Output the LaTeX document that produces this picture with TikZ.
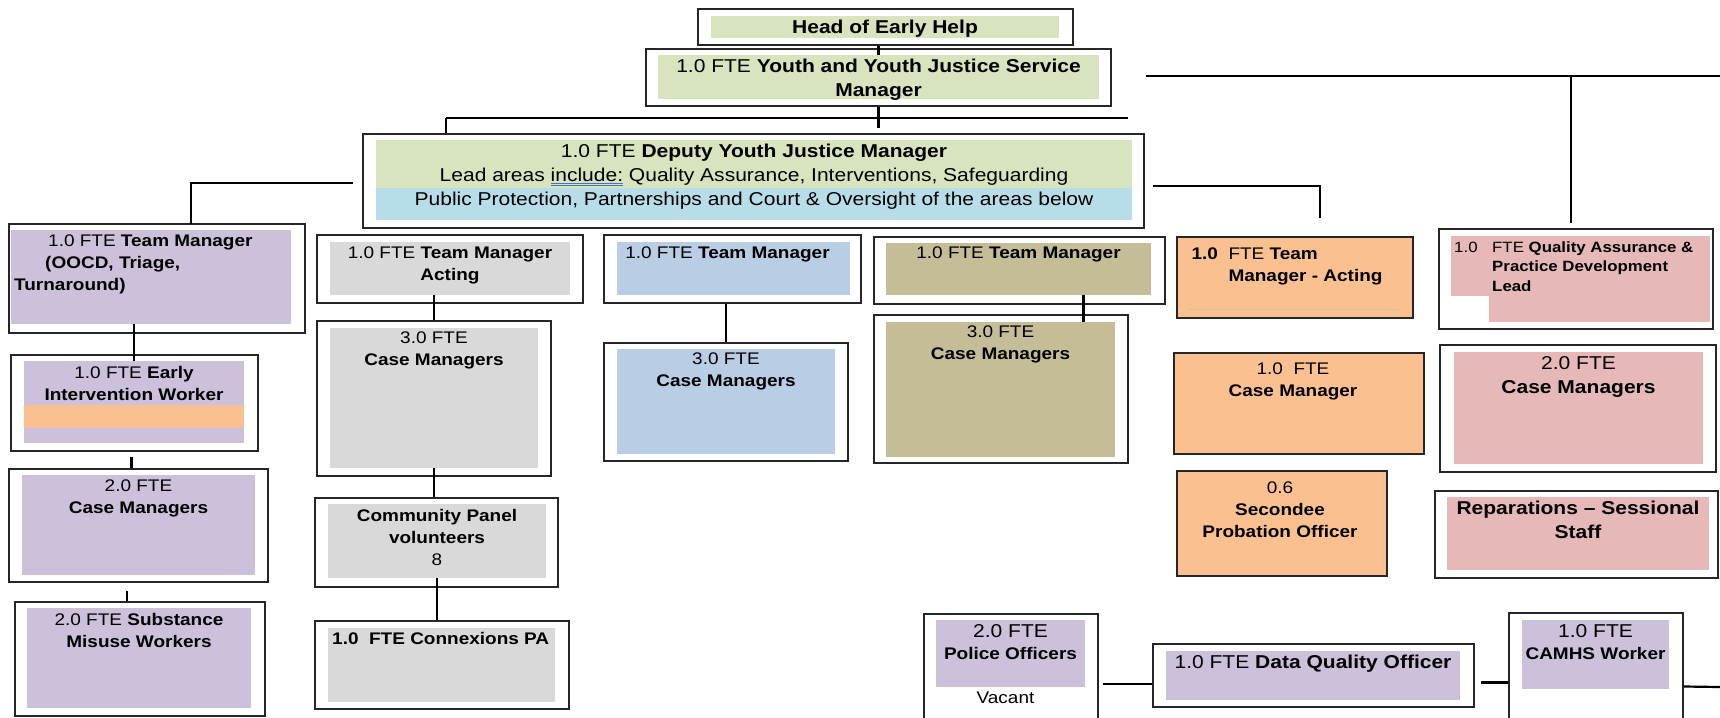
\documentclass[tikz,border=0pt]{standalone}
\usepackage{fontspec}
\setmainfont[FakeStretch=1.13]{Liberation Sans}
\usetikzlibrary{positioning}

\definecolor{hgreen}{HTML}{D7E4BD}
\definecolor{hcyan}{HTML}{B7DEE8}
\definecolor{lilac}{HTML}{CCC0DA}
\definecolor{silver}{HTML}{D9D9D9}
\definecolor{skyblue}{HTML}{B9CDE5}
\definecolor{khaki}{HTML}{C4BD97}
\definecolor{peach}{HTML}{FAC090}
\definecolor{rose}{HTML}{E6B9B8}
\definecolor{gramblue}{HTML}{4472C4}
\definecolor{tanline}{HTML}{D2C3A0}

\newcommand\sizebig{\fontsize{18.6}{24}\selectfont}
\newcommand\sizesmall{\fontsize{16.8}{22}\selectfont}
\newcommand\sizeqa{\fontsize{14.9}{19.5}\selectfont}
% blue double line under a word
\newcommand\gramline[1]{\setbox0\hbox{#1}\rlap{\color{gramblue}\rule[-2.5pt]{\wd0}{0.9pt}\hspace*{-\wd0}\rule[-4.6pt]{\wd0}{0.9pt}}\box0\relax}

\begin{document}
\begin{tikzpicture}[x=1pt, y=-1pt,
    cell/.style = {draw=black!85, line width=1.4pt, fill=white, inner sep=0pt},
    card/.style = {cell, fill=#1},
    pane/.style = {fill=#1, inner sep=0pt, outer sep=0pt},
    bigtxt/.style = {font=\sizebig, align=center, inner sep=0pt},
    smalltxt/.style = {font=\sizesmall, align=center, inner sep=0pt},
    link/.style = {draw=black, line width=2.2pt}]
  \useasboundingbox (0,0) rectangle (1720,717);
  \clip (0,0) rectangle (1720,717);

  % top of the tree
  \node[cell, minimum width=375pt, minimum height=36pt] (head) at (885.5,27) {};
  \node[pane=hgreen, minimum width=348pt, minimum height=22pt] (headin) at (885,27) {};
  \node[bigtxt, below=4pt of headin.north] (headt) {\textbf{Head of Early Help}};

  \node[cell, minimum width=465pt, minimum height=57pt] (yjsm) at (878.5,77.5) {};
  \node[pane=hgreen, minimum width=441pt, minimum height=44pt] (yjsmin) at (878.5,77) {};
  \node[bigtxt, below=4pt of yjsmin.north] (yjsmt) {1.0 FTE \textbf{Youth and Youth Justice Service}\\\textbf{Manager}};

  \node[cell, minimum width=781pt, minimum height=94pt] (dep) at (753.5,181) {};
  \node[pane=hgreen, minimum width=756pt, minimum height=48pt] (depin) at (754,164) {};
  \node[pane=hcyan, minimum width=756pt, minimum height=32pt, below=0pt of depin] (depinb) {};
  \node[bigtxt, below=4pt of depin.north] (dept) {1.0 FTE \textbf{Deputy Youth Justice Manager}\\Lead areas \gramline{include:} Quality Assurance, Interventions, Safeguarding\\Public Protection, Partnerships and Court \& Oversight of the areas below};

  % team managers
  \node[cell, minimum width=296pt, minimum height=109pt] (tm1) at (157,278.5) {};
  \node[pane=lilac, minimum width=280pt, minimum height=94pt] (tm1in) at (151,277) {};
  \node[smalltxt, align=left, below right=5pt and 3pt of tm1in.north west] (tm1t) {\hspace*{34pt}1.0 FTE \textbf{Team Manager}\\\hspace*{31pt}\textbf{(OOCD, Triage,}\\\textbf{Turnaround)}};

  \node[cell, minimum width=266pt, minimum height=68pt] (tm2) at (450,269) {};
  \node[pane=silver, minimum width=240pt, minimum height=53pt] (tm2in) at (450,268.5) {};
  \node[smalltxt, below=5pt of tm2in.north] (tm2t) {1.0 FTE \textbf{Team Manager}\\\textbf{Acting}};

  \node[cell, minimum width=257pt, minimum height=68pt] (tm3) at (732.5,269) {};
  \node[pane=skyblue, minimum width=233pt, minimum height=53pt] (tm3in) at (733.5,268.5) {};
  \node[smalltxt, below=5pt of tm3in.north, xshift=-6pt] (tm3t) {1.0 FTE \textbf{Team Manager}};

  \node[cell, minimum width=291pt, minimum height=67pt] (tm4) at (1019.5,270.5) {};
  \node[pane=khaki, minimum width=265pt, minimum height=52pt] (tm4in) at (1018.5,269) {};
  \node[smalltxt, below=4pt of tm4in.north] (tm4t) {1.0 FTE \textbf{Team Manager}};

  \node[card=peach, minimum width=236pt, minimum height=81pt] (tm5) at (1295,277.5) {};
  \draw[tanline, line width=1.5pt] ([xshift=12pt,yshift=9pt]tm5.south west) -- ([xshift=-15pt,yshift=9pt]tm5.south east);
  \node[smalltxt, align=left, below right=11pt and 15pt of tm5.north west] (tm5t) {\makebox[37pt][l]{\textbf{1.0}}FTE \textbf{Team}\\\hspace*{37pt}\textbf{Manager - Acting}};

  \node[cell, minimum width=274pt, minimum height=100pt] (qa) at (1576,279) {};
  \node[pane=rose, minimum width=259pt, minimum height=60pt] (qain) at (1580.5,266) {};
  \node[pane=rose, minimum width=221pt, minimum height=26pt] (qatail) at (1599.5,309) {};
  \node[font=\sizeqa, align=left, inner sep=0pt, below right=5.5pt and 3pt of qain.north west] (qat) {\makebox[38pt][l]{1.0}FTE \textbf{Quality Assurance \&}\\\hspace*{38pt}\textbf{Practice Development}\\\hspace*{38pt}\textbf{Lead}};

  % first column
  \node[cell, minimum width=247pt, minimum height=96pt] (eiw) at (134.5,403) {};
  \node[pane=lilac, minimum width=220pt, minimum height=82pt] (eiwin) at (134,402) {};
  \node[pane=peach, minimum width=220pt, minimum height=23pt, below=44pt of eiwin.north] (eiwband) {};
  \node[smalltxt, below=5pt of eiwin.north] (eiwt) {1.0 FTE \textbf{Early}\\\textbf{Intervention Worker}};

  \node[cell, minimum width=259pt, minimum height=113pt] (cm1) at (138.5,525.5) {};
  \node[pane=lilac, minimum width=233pt, minimum height=100pt] (cm1in) at (138.5,525) {};
  \node[smalltxt, below=5pt of cm1in.north] (cm1t) {2.0 FTE\\\textbf{Case Managers}};

  \node[cell, minimum width=250pt, minimum height=114pt] (sub) at (140,659) {};
  \node[pane=lilac, minimum width=224pt, minimum height=100pt] (subin) at (139,658) {};
  \node[smalltxt, below=5pt of subin.north] (subt) {2.0 FTE \textbf{Substance}\\\textbf{Misuse Workers}};

  % second column
  \node[cell, minimum width=234pt, minimum height=155pt] (cm2) at (434,398.5) {};
  \node[pane=silver, minimum width=208pt, minimum height=140pt] (cm2in) at (434,398) {};
  \node[smalltxt, below=4pt of cm2in.north] (cm2t) {3.0 FTE\\\textbf{Case Managers}};

  \node[cell, minimum width=243pt, minimum height=89pt] (cp) at (436.5,542.5) {};
  \node[pane=silver, minimum width=218pt, minimum height=74pt] (cpin) at (437,541) {};
  \node[smalltxt, below=5pt of cpin.north] (cpt) {\textbf{Community Panel}\\\textbf{volunteers}\\8};

  \node[cell, minimum width=254pt, minimum height=88pt] (cx) at (442,665) {};
  \node[pane=silver, minimum width=227pt, minimum height=74pt] (cxin) at (441.5,665) {};
  \node[smalltxt, align=left, below right=4pt and 4pt of cxin.north west] (cxt) {\textbf{1.0\ \ FTE Connexions PA}};

  % third and fourth columns
  \node[cell, minimum width=244pt, minimum height=118pt] (cm3) at (726,402) {};
  \node[pane=skyblue, minimum width=218pt, minimum height=105pt] (cm3in) at (726,401.5) {};
  \node[smalltxt, below=4pt of cm3in.north] (cm3t) {3.0 FTE\\\textbf{Case Managers}};

  \node[cell, minimum width=254pt, minimum height=148pt] (cm4) at (1001,389) {};
  \node[pane=khaki, minimum width=229pt, minimum height=135pt] (cm4in) at (1000.5,389.5) {};
  \node[smalltxt, below=4pt of cm4in.north] (cm4t) {3.0 FTE\\\textbf{Case Managers}};

  % orange column
  \node[card=peach, minimum width=250pt, minimum height=101pt] (cm5) at (1299,403.5) {};
  \node[smalltxt, below=10pt of cm5.north, xshift=-6pt] (cm5t) {1.0\ \ FTE\\\textbf{Case Manager}};

  \node[card=peach, minimum width=210pt, minimum height=105pt] (sec) at (1282,523.5) {};
  \node[smalltxt, below=11pt of sec.north, xshift=-2pt] (sect) {0.6\\\textbf{Secondee}\\\textbf{Probation Officer}};

  % pink column
  \node[cell, minimum width=276pt, minimum height=127pt] (cm6) at (1578,408.5) {};
  \node[pane=rose, minimum width=249pt, minimum height=112pt] (cm6in) at (1578.5,408) {};
  \node[bigtxt, below=4pt of cm6in.north] (cm6t) {2.0 FTE\\\textbf{Case Managers}};

  \node[cell, minimum width=283pt, minimum height=87pt] (rep) at (1576.5,534.5) {};
  \node[pane=rose, minimum width=262pt, minimum height=73pt] (repin) at (1578,533.5) {};
  \node[bigtxt, below=4pt of repin.north] (rept) {\textbf{Reparations – Sessional}\\\textbf{Staff}};

  % bottom row
  \node[cell, minimum width=174pt, minimum height=146pt] (pol) at (1011,687) {};
  \node[pane=lilac, minimum width=149pt, minimum height=67pt] (polin) at (1010.5,653.5) {};
  \node[bigtxt, below=4pt of polin.north] (polt) {2.0 FTE};
  \node[smalltxt, below=10pt of polt] (polt2) {\textbf{Police Officers}};
  \node[smalltxt, below=5pt of polin.south, xshift=-5pt] (vacant) {Vacant};

  \node[cell, minimum width=321pt, minimum height=63pt] (dq) at (1313.5,675.5) {};
  \node[pane=lilac, minimum width=294pt, minimum height=49pt] (dqin) at (1313,675.5) {};
  \node[bigtxt, below=4pt of dqin.north] (dqt) {1.0 FTE \textbf{Data Quality Officer}};

  \node[cell, minimum width=174pt, minimum height=147pt] (camhs) at (1596,686.5) {};
  \node[pane=lilac, minimum width=147pt, minimum height=69pt] (camhsin) at (1595.5,654.5) {};
  \node[bigtxt, below=4pt of camhsin.north] (camhst) {1.0 FTE};
  \node[smalltxt, below=10pt of camhst] (camhst2) {\textbf{CAMHS Worker}};

  % junctions
  \coordinate (b1w) at (446,118);
  \coordinate (b1e) at (1128,118);
  \coordinate (b2e) at (1720,76);
  \coordinate (b3e) at (1720,687);
  \coordinate (tm1top) at (191,224);
  \coordinate (tm5hook) at (1320,218);
  \coordinate (qadrop) at ([xshift=-5pt,yshift=5pt]qa.north);
  \coordinate (eiwgap) at ([yshift=-5pt]eiw.south);
  \coordinate (cm1drop) at ([xshift=-7pt]cm1.north);
  \coordinate (cm1gap) at ([yshift=-8pt]cm1.south);
  \coordinate (subdrop) at ([xshift=-13pt]sub.north);
  \coordinate (cm4hook) at ([xshift=65pt]tm4in.south);
  \coordinate (polgap) at ([xshift=4pt,yshift=3pt]pol.east);
  \coordinate (dqgap) at ([xshift=6pt,yshift=-7pt]dq.east);

  % connectors
  \draw[link] (head.south -| yjsmin.north) -- (yjsmin.north);
  \draw[link] (yjsm.south) -- ([yshift=-10pt]yjsm.south |- b1w);
  \draw[link] (b1w) -- (b1e);
  \draw[link] (b1w) -- (b1w |- dep.north);
  \draw[link] ([xshift=-9pt,yshift=-2pt]dep.west) -| (tm1top);
  \draw[link] ([xshift=8pt,yshift=-5pt]dep.east) -| (tm5hook);
  \draw[link] ([xshift=34pt,yshift=1.5pt]yjsm.east) -- (b2e);
  \draw[link] (qadrop |- b2e) -- (qadrop);
  \draw[link] (eiwin.north |- tm1in.south) -- (eiwin.north);
  \draw[link] (cm1drop |- eiwgap) -- (cm1drop);
  \draw[link] (subdrop |- cm1gap) -- (subdrop);
  \draw[link] (cm2.north |- tm2in.south) -- (cm2.north);
  \draw[link] (cm2in.south) -- (cm2in.south |- cp.north);
  \draw[link] (cpin.south) -- (cpin.south |- cx.north);
  \draw[link] (cm3.north |- tm3.south) -- (cm3.north);
  \draw[link] (cm4hook) -- (cm4hook |- cm4in.north);
  \draw[link] (polgap) -- (polgap -| dq.west);
  \draw[link] (dqgap) -- (dqgap -| camhs.west);
  \draw[link] (camhs.east) -- (b3e);
\end{tikzpicture}
\end{document}
